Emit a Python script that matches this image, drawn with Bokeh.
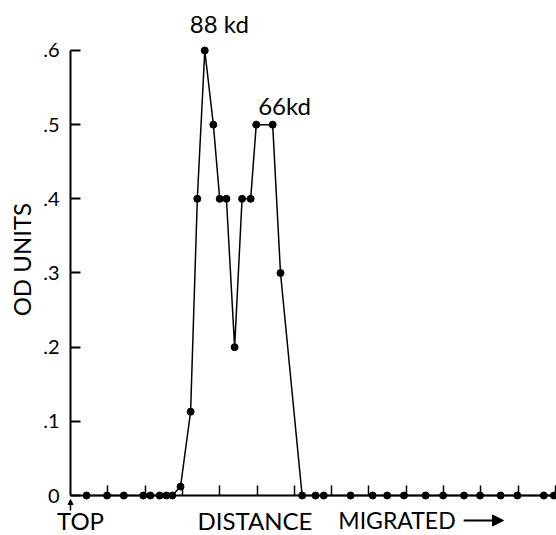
import math
from bokeh.plotting import figure
from bokeh.models import Label, Arrow, NormalHead, FixedTicker, Range1d
from bokeh.embed import file_html
from bokeh.resources import INLINE

# ---- data (x in tick units of distance migrated, y in OD units) ----
distance = [0.43, 0.98, 1.43, 1.95, 2.14, 2.39, 2.57, 2.73, 2.95, 3.22,
            3.40, 3.60, 3.83, 4.00, 4.18, 4.40, 4.60, 4.83, 4.98, 5.42,
            5.63, 6.21, 6.57, 6.79, 7.51, 8.10, 8.49, 8.94, 9.52, 9.99,
            10.55, 10.98, 11.53, 11.98, 12.69, 12.96]
od_units = [0, 0, 0, 0, 0, 0, 0, 0, 0.012, 0.113,
            0.4, 0.6, 0.5, 0.4, 0.4, 0.2, 0.4, 0.4, 0.5, 0.5,
            0.3, 0, 0, 0, 0, 0, 0, 0, 0, 0,
            0, 0, 0, 0, 0, 0]
y_ticks = [0, 0.1, 0.2, 0.3, 0.4, 0.5, 0.6]
y_tick_labels = ["0", ".1", ".2", ".3", ".4", ".5", ".6"]
x_ticks = [1, 2, 3, 4, 5, 6, 7, 8, 9, 10, 11, 12, 13]
peak_labels = ["88 kd", "66kd"]
peak_x = [3.99, 5.74]
peak_y = [0.636, 0.5265]

FONT = "Lato"
BOTTOM_Y = -0.0337

p = figure(width=556, height=535, output_backend="svg", toolbar_location=None,
           x_range=Range1d(-1.8767, 13.0295), y_range=Range1d(-0.05393, 0.6674),
           min_border_left=0, min_border_right=0, min_border_top=0,
           min_border_bottom=0)
p.outline_line_color = None
p.grid.visible = False
p.background_fill_color = "white"
p.border_fill_color = "white"

# y axis at x = 0
ya = p.yaxis[0]
ya.fixed_location = 0
ya.ticker = FixedTicker(ticks=y_ticks)
ya.major_label_overrides = dict(zip(y_ticks, y_tick_labels))
ya.bounds = (0, 0.6)
ya.major_tick_in = 10
ya.major_tick_out = 0
ya.minor_tick_in = 0
ya.minor_tick_out = 0
ya.axis_line_width = 2
ya.major_tick_line_width = 2
ya.axis_line_color = "black"
ya.major_tick_line_color = "black"
ya.major_label_text_font = FONT
ya.major_label_text_font_size = "20px"
ya.major_label_text_color = "black"
ya.major_label_standoff = 11

# x axis at y = 0
xa = p.xaxis[0]
xa.fixed_location = 0
xa.ticker = FixedTicker(ticks=x_ticks)
xa.major_label_overrides = {t: "" for t in x_ticks}
xa.bounds = (0, 13.03)
xa.major_tick_in = 10
xa.major_tick_out = 0
xa.minor_tick_in = 0
xa.minor_tick_out = 0
xa.axis_line_width = 2
xa.major_tick_line_width = 1.5
xa.axis_line_color = "black"
xa.major_tick_line_color = "black"
xa.major_label_standoff = 0

p.line(distance, od_units, line_width=1.5, line_color="black")
p.scatter(distance, od_units, size=7, fill_color="black", line_color="black")

for t, x, y in zip(peak_labels, peak_x, peak_y):
    p.add_layout(Label(x=x, y=y, text=t, text_font=FONT, text_font_size="24px",
                       text_align="center", text_baseline="middle", text_color="black"))

p.add_layout(Label(x=0.268, y=BOTTOM_Y, text="TOP", text_font=FONT, text_font_size="24px",
                   text_align="center", text_baseline="middle", text_color="black"))
p.add_layout(Label(x=3.405, y=BOTTOM_Y, text="DISTANCE", text_font=FONT,
                   text_font_size="24px", text_align="left", text_baseline="middle",
                   text_color="black"))
p.add_layout(Label(x=7.18, y=BOTTOM_Y, text="MIGRATED", text_font=FONT,
                   text_font_size="23px", text_align="left", text_baseline="middle",
                   text_color="black"))
p.add_layout(Label(x=-1.31, y=0.318, text="OD UNITS", text_font=FONT, text_font_size="24px",
                   text_align="center", text_baseline="middle", angle=math.pi / 2,
                   text_color="black"))

p.add_layout(Arrow(x_start=10.54, y_start=BOTTOM_Y, x_end=11.61, y_end=BOTTOM_Y,
                   line_width=2, line_color="black",
                   end=NormalHead(size=11, fill_color="black", line_color="black")))
p.add_layout(Arrow(x_start=0, y_start=-0.0202, x_end=0, y_end=-0.0054,
                   line_width=1.5, line_color="black",
                   end=NormalHead(size=5, fill_color="black", line_color="black")))

open("out.html", "w").write(file_html(p, INLINE))
